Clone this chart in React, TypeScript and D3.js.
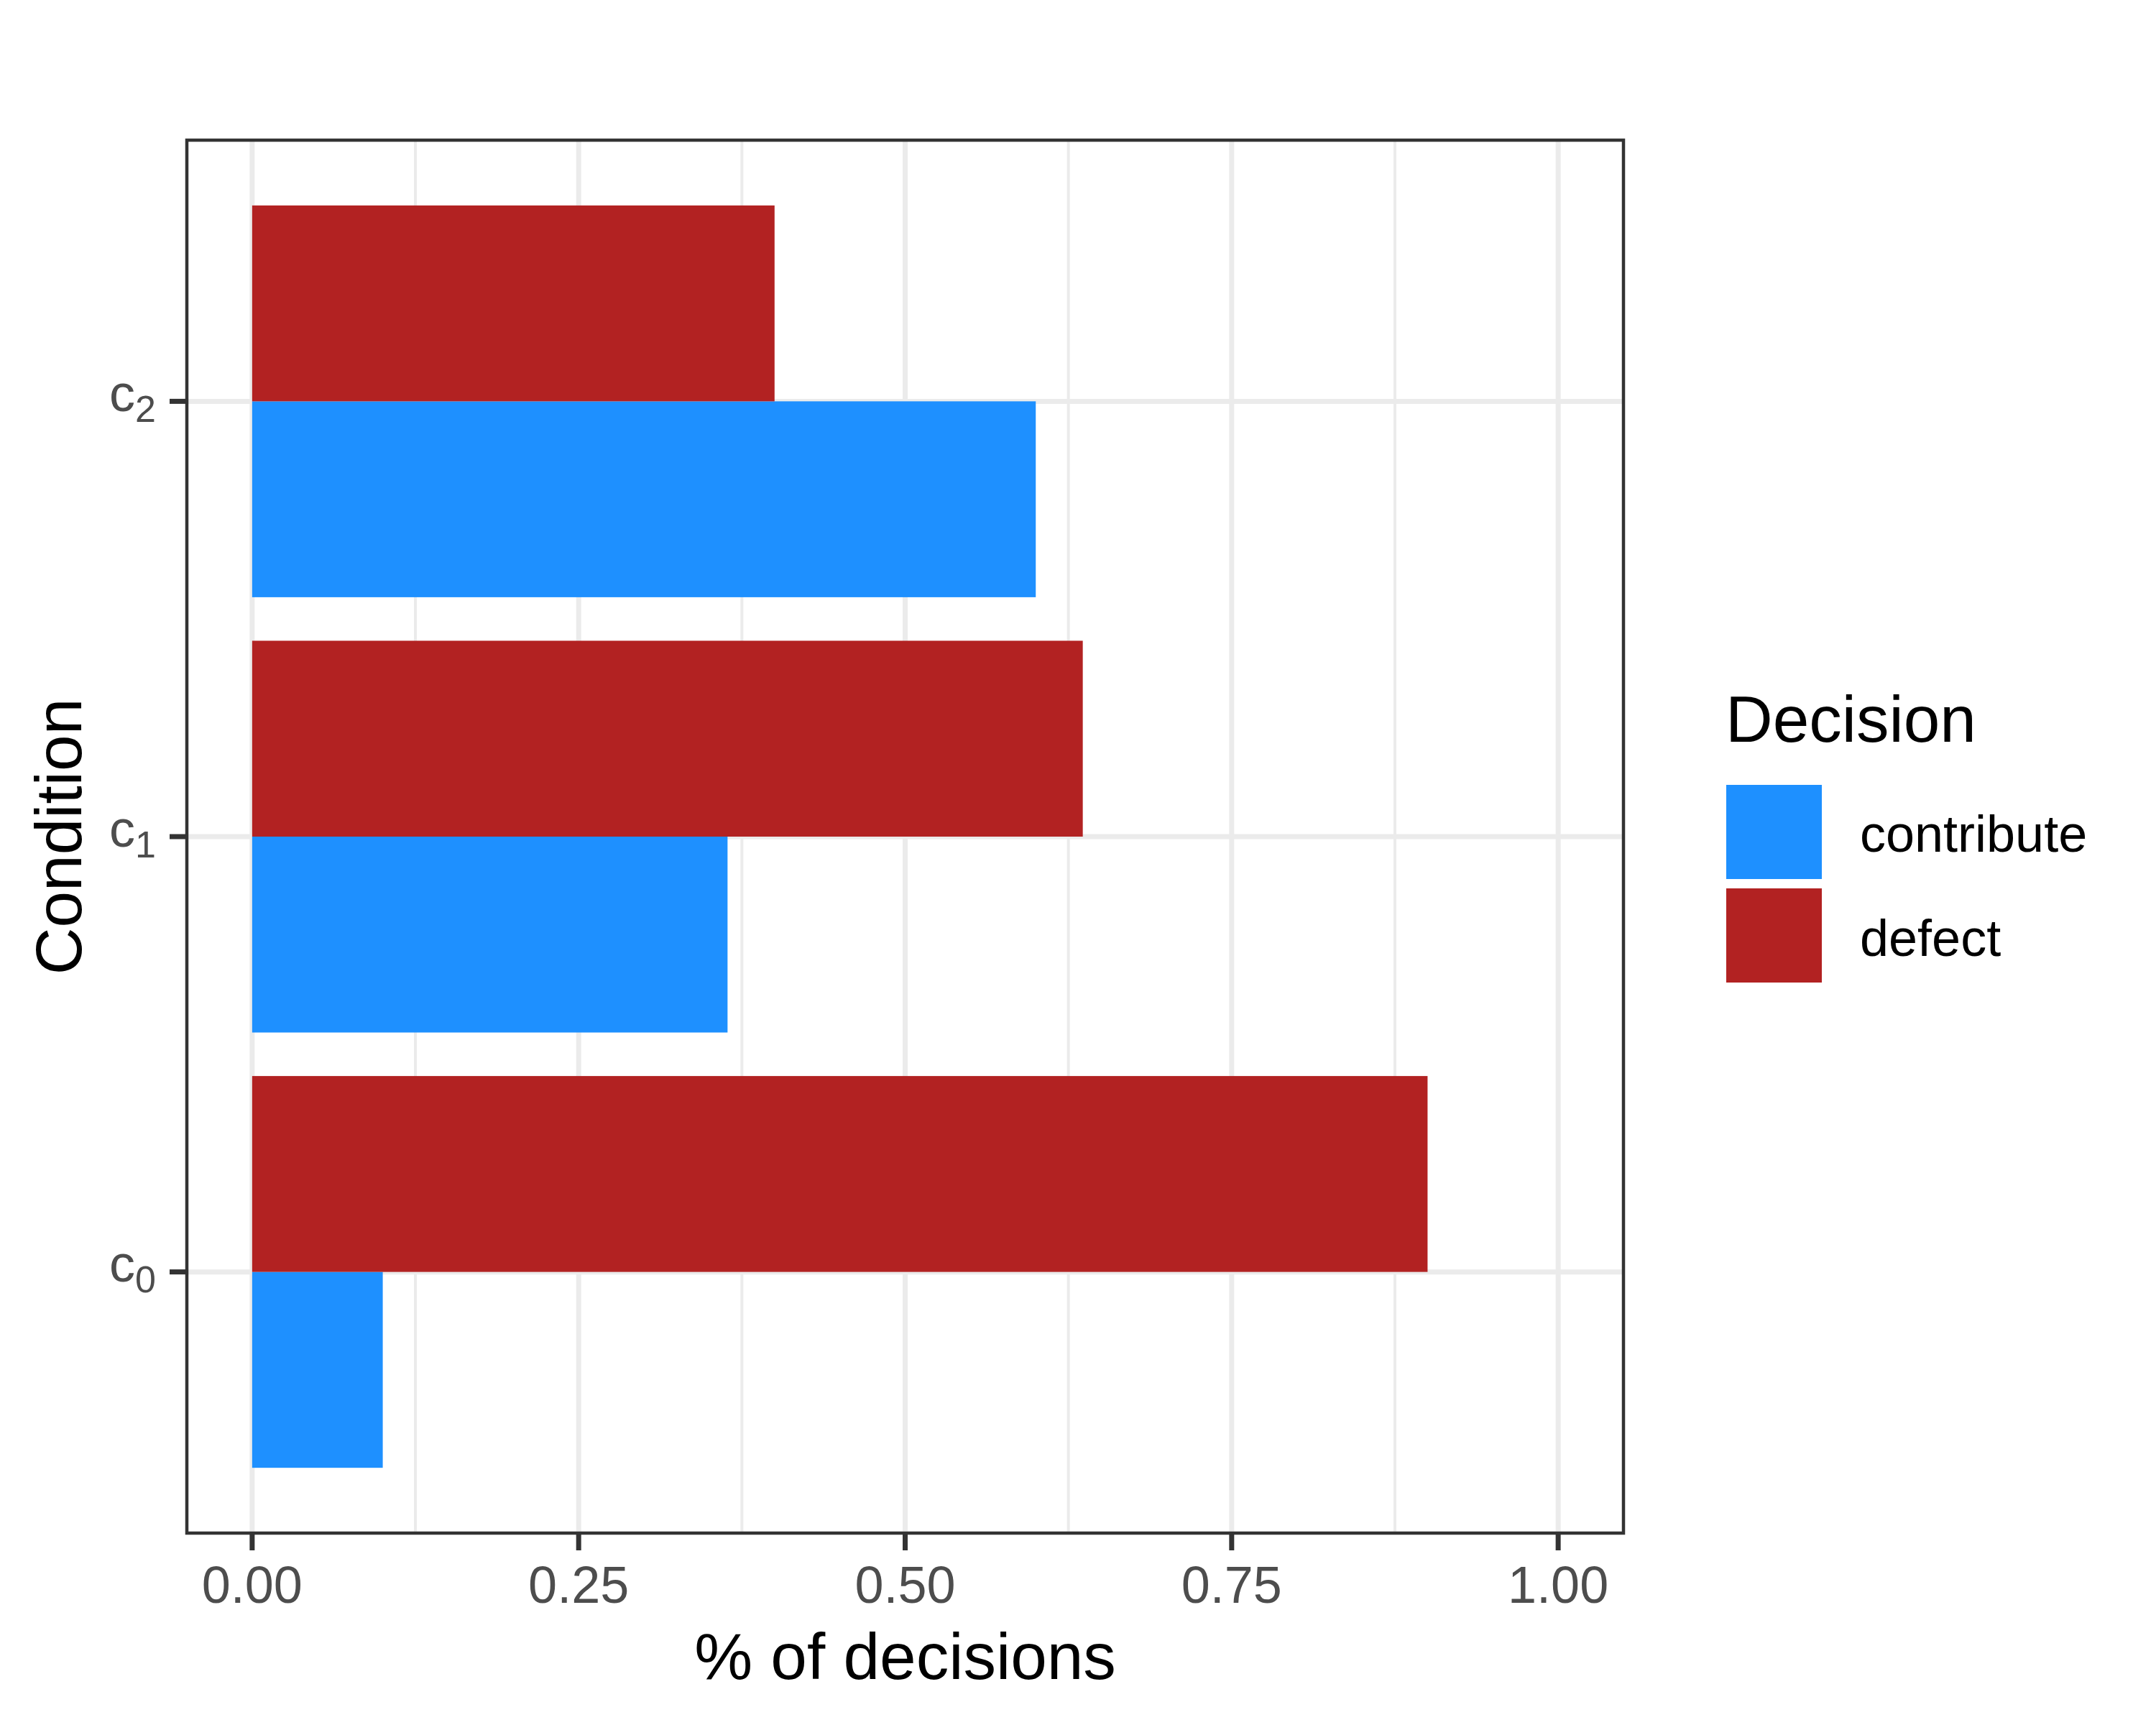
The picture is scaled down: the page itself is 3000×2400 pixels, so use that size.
import { useEffect, useRef } from "react";
import * as d3 from "d3";

// data
const conditions = ["0", "1", "2"]; // subscripts of c
const decisions = ["contribute", "defect"];
const contributeShare = [0.1, 0.364, 0.6];
const defectShare = [0.9, 0.636, 0.4];
const xTicks = [0, 0.25, 0.5, 0.75, 1];
const xMinorTicks = [0.125, 0.375, 0.625, 0.875];
const decisionColors = ["#1E90FF", "#B22222"];

const W = 3000;
const H = 2400;
const FONT = "'Liberation Sans', Arial, sans-serif";

export default function App() {
  const svgRef = useRef<SVGSVGElement>(null);

  useEffect(() => {
    if (!svgRef.current) return;
    const svg = d3.select(svgRef.current);
    svg.selectAll("*").remove();

    const panel = { left: 260, right: 2259, top: 195, bottom: 2133 };

    const x = d3.scaleLinear().domain([-0.05, 1.05]).range([panel.left, panel.right]);
    // discrete positions 1..3 with ggplot's 0.6 expansion
    const y = d3.scaleLinear().domain([0.4, 3.6]).range([panel.bottom, panel.top]);

    svg.append("rect").attr("width", W).attr("height", H).attr("fill", "#FFFFFF");

    const g = svg.append("g");

    // minor grid
    g.selectAll(".minor")
      .data(xMinorTicks)
      .join("line")
      .attr("x1", (d) => x(d))
      .attr("x2", (d) => x(d))
      .attr("y1", panel.top)
      .attr("y2", panel.bottom)
      .attr("stroke", "#EBEBEB")
      .attr("stroke-width", 4);

    // major grid
    g.selectAll(".majorx")
      .data(xTicks)
      .join("line")
      .attr("x1", (d) => x(d))
      .attr("x2", (d) => x(d))
      .attr("y1", panel.top)
      .attr("y2", panel.bottom)
      .attr("stroke", "#EBEBEB")
      .attr("stroke-width", 7);

    g.selectAll(".majory")
      .data(conditions)
      .join("line")
      .attr("x1", panel.left)
      .attr("x2", panel.right)
      .attr("y1", (_, i) => y(i + 1))
      .attr("y2", (_, i) => y(i + 1))
      .attr("stroke", "#EBEBEB")
      .attr("stroke-width", 7);

    // bars: dodge width 0.9, contribute below, defect above
    const half = 0.45;
    conditions.forEach((_, i) => {
      const pos = i + 1;
      g.append("rect")
        .attr("x", x(0))
        .attr("y", y(pos))
        .attr("width", x(contributeShare[i]) - x(0))
        .attr("height", y(pos - half) - y(pos))
        .attr("fill", decisionColors[0]);
      g.append("rect")
        .attr("x", x(0))
        .attr("y", y(pos + half))
        .attr("width", x(defectShare[i]) - x(0))
        .attr("height", y(pos) - y(pos + half))
        .attr("fill", decisionColors[1]);
    });

    // panel border
    g.append("rect")
      .attr("x", panel.left)
      .attr("y", panel.top)
      .attr("width", panel.right - panel.left)
      .attr("height", panel.bottom - panel.top)
      .attr("fill", "none")
      .attr("stroke", "#333333")
      .attr("stroke-width", 4.5);

    // x ticks + labels
    xTicks.forEach((t) => {
      g.append("line")
        .attr("x1", x(t))
        .attr("x2", x(t))
        .attr("y1", panel.bottom)
        .attr("y2", panel.bottom + 24)
        .attr("stroke", "#333333")
        .attr("stroke-width", 7);
      g.append("text")
        .attr("x", x(t))
        .attr("y", 2230)
        .attr("text-anchor", "middle")
        .attr("font-family", FONT)
        .attr("font-size", 72)
        .attr("fill", "#4D4D4D")
        .text(d3.format(".2f")(t));
    });

    // y ticks + labels (c with subscript)
    conditions.forEach((sub, i) => {
      const yy = y(i + 1);
      g.append("line")
        .attr("x1", panel.left - 24)
        .attr("x2", panel.left)
        .attr("y1", yy)
        .attr("y2", yy)
        .attr("stroke", "#333333")
        .attr("stroke-width", 7);
      const t = g
        .append("text")
        .attr("x", 217)
        .attr("y", yy + 13.5)
        .attr("text-anchor", "end")
        .attr("font-family", FONT)
        .attr("font-size", 72)
        .attr("fill", "#4D4D4D");
      t.append("tspan").text("c");
      t.append("tspan").attr("font-size", 52).attr("dy", 15).text(sub);
    });

    // axis titles
    g.append("text")
      .attr("x", (panel.left + panel.right) / 2)
      .attr("y", 2336)
      .attr("text-anchor", "middle")
      .attr("font-family", FONT)
      .attr("font-size", 91)
      .attr("fill", "#000000")
      .text("% of decisions");

    g.append("text")
      .attr("transform", `translate(113,${(panel.top + panel.bottom) / 2}) rotate(-90)`)
      .attr("text-anchor", "middle")
      .attr("font-family", FONT)
      .attr("font-size", 91)
      .attr("fill", "#000000")
      .text("Condition");

    // legend
    const legend = g.append("g");
    legend
      .append("text")
      .attr("x", 2401)
      .attr("y", 1032)
      .attr("font-family", FONT)
      .attr("font-size", 91)
      .attr("fill", "#000000")
      .text("Decision");

    const keyTops = [1092, 1236];
    const labelBase = [1185, 1330];
    decisions.forEach((d, i) => {
      legend
        .append("rect")
        .attr("x", 2402)
        .attr("y", keyTops[i])
        .attr("width", 133)
        .attr("height", 131)
        .attr("fill", decisionColors[i]);
      legend
        .append("text")
        .attr("x", 2588)
        .attr("y", labelBase[i])
        .attr("font-family", FONT)
        .attr("font-size", 72)
        .attr("fill", "#000000")
        .text(d);
    });
  }, []);

  return (
    <div style={{ position: "absolute", left: 0, top: 0 }}>
      <svg ref={svgRef} width={W} height={H} style={{ display: "block" }} />
    </div>
  );
}
